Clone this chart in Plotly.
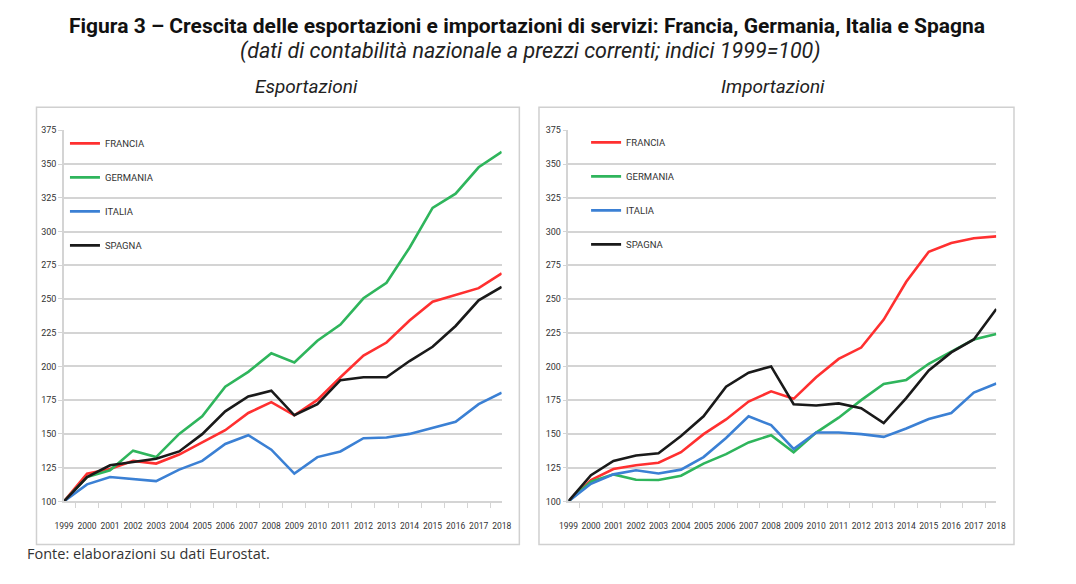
import plotly.graph_objects as go

years = [str(y) for y in range(1999, 2019)]

# Esportazioni (indici 1999=100)
exp_francia = [100, 120.5, 124, 130, 128, 134.7, 143.7, 152.7, 165.5, 173.5, 163.8, 175.2, 192, 208, 217.7, 234, 248, 253, 258, 269]
exp_germania = [100, 118, 123, 137.6, 132.8, 150, 163, 185, 196, 209.7, 203, 219, 231, 250.5, 262, 288, 317.5, 328, 347.6, 359]
exp_italia = [100, 112.6, 118, 116.5, 115, 123.5, 130, 142.5, 149, 138.3, 120.6, 132.8, 137, 146.8, 147.3, 150, 154.6, 159, 172, 180.5]
exp_spagna = [100, 118, 126.7, 129, 131.6, 137, 149.8, 166.7, 177.7, 182, 163.8, 172, 189.8, 192, 192, 204, 214.6, 230, 249, 259]

# Importazioni (indici 1999=100)
imp_francia = [100, 115.8, 124, 126.7, 128.6, 136.4, 149.8, 160.7, 174, 181.5, 176, 192, 205.6, 214, 234.7, 262.7, 285, 291.5, 295, 296.4]
imp_germania = [100, 114.6, 120, 116, 115.8, 119, 128, 135, 143.7, 149, 136.4, 151, 162, 175, 187, 190, 202, 211, 220, 224]
imp_italia = [100, 113, 120, 123, 120.6, 123.5, 132.8, 147, 163, 156.5, 138.8, 151, 151, 149.8, 147.8, 154, 161, 165.5, 180.6, 187.4]
imp_spagna = [100, 119.4, 130, 134, 135.7, 148.5, 163, 185, 195.4, 200, 172, 171, 172.6, 169, 158, 176.5, 197, 210.4, 220, 242.5]

countries = ["FRANCIA", "GERMANIA", "ITALIA", "SPAGNA"]
colors = ["#ff3030", "#2fb55c", "#3b80d4", "#1a1a1a"]
y_ticks = [100, 125, 150, 175, 200, 225, 250, 275, 300, 325, 350, 375]

W, H = 1076, 584
def px(x):
    return x / W
def py(y):
    return 1 - y / H

FONT = "Roboto, sans-serif"

fig = go.Figure()

exp_series = [exp_francia, exp_germania, exp_italia, exp_spagna]
imp_series = [imp_francia, imp_germania, imp_italia, imp_spagna]

for name, col, vals in zip(countries, colors, exp_series):
    fig.add_trace(go.Scatter(x=years, y=vals, mode="lines", name=name,
                             line=dict(color=col, width=2.6),
                             xaxis="x", yaxis="y", legend="legend",
                             legendgroup="e" + name))
for name, col, vals in zip(countries, colors, imp_series):
    fig.add_trace(go.Scatter(x=years, y=vals, mode="lines", name=name,
                             line=dict(color=col, width=2.6),
                             xaxis="x2", yaxis="y2", legend="legend2",
                             legendgroup="i" + name))

grid = "#d4d4d4"
axis_common_x = dict(type="category", tickson="boundaries", ticks="outside", ticklen=5,
                     tickcolor=grid, showline=True, linecolor=grid, linewidth=1.5,
                     showgrid=False, tickfont=dict(family=FONT, size=8.5, color="#333"),
                     tickangle=0, fixedrange=True, ticklabelstandoff=16)
axis_common_y = dict(range=[100, 375], tickvals=y_ticks, ticks="outside", ticklen=4,
                     tickcolor=grid, showline=True, linecolor=grid, linewidth=1.5,
                     showgrid=True, gridcolor=grid, gridwidth=1.6, zeroline=False,
                     tickfont=dict(family=FONT, size=9, color="#333"), fixedrange=True)

ydom = [py(505), py(127.5)]

legend_common = dict(bgcolor="rgba(0,0,0,0)", font=dict(family=FONT, size=9.5, color="#333"),
                     tracegroupgap=15, yanchor="top", xanchor="left", itemwidth=30)

fig.update_layout(
    width=W, height=H,
    margin=dict(l=0, r=0, t=0, b=0),
    paper_bgcolor="white", plot_bgcolor="white",
    xaxis=dict(domain=[px(55), px(501)], anchor="y", **axis_common_x),
    yaxis=dict(domain=ydom, anchor="x", **axis_common_y),
    xaxis2=dict(domain=[px(569), px(1005)], anchor="y2", **axis_common_x),
    yaxis2=dict(domain=ydom, anchor="x2", **axis_common_y),
    legend=dict(x=px(56), y=py(126), **legend_common),
    legend2=dict(x=px(587), y=py(125), **legend_common),
    showlegend=True,
)

# panel frames
for x0, x1 in [(27, 519), (539, 1023)]:
    fig.add_shape(type="rect", xref="paper", yref="paper",
                  x0=px(x0), x1=px(x1), y0=py(549), y1=py(104),
                  line=dict(color="#d0d0d0", width=1.5), fillcolor="rgba(0,0,0,0)", layer="below")

ann = [
    dict(text="<b>Figura 3 – Crescita delle esportazioni e importazioni di servizi: Francia, Germania, Italia e Spagna</b>",
         x=px(527), y=py(21), font=dict(family=FONT, size=21, color="#111")),
    dict(text="<i>(dati di contabilità nazionale a prezzi correnti; indici 1999=100)</i>",
         x=px(530), y=py(47), font=dict(family=FONT, size=21.5, color="#222")),
    dict(text="<i>Esportazioni</i>", x=px(302), y=py(83), font=dict(family=FONT, size=19, color="#222")),
    dict(text="<i>Importazioni</i>", x=px(777), y=py(83), font=dict(family=FONT, size=19, color="#222")),
]
for a in ann:
    fig.add_annotation(xref="paper", yref="paper", showarrow=False, xanchor="center", yanchor="middle", **a)

fig.add_annotation(text="Fonte: elaborazioni su dati Eurostat.", xref="paper", yref="paper",
                   x=px(15), y=py(558), xanchor="left", yanchor="middle", showarrow=False,
                   font=dict(family="Open Sans, sans-serif", size=14.5, color="#333"))

fig.write_html("out.html")
